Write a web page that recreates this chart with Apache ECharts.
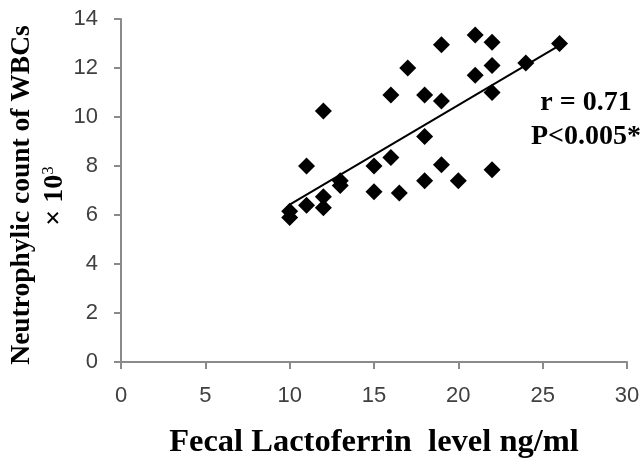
<!DOCTYPE html>
<html>
<head>
<meta charset="utf-8">
<script src="https://cdn.jsdelivr.net/npm/echarts@6/dist/echarts.min.js"></script>
<style>
html,body{margin:0;padding:0;background:#fff;}
#chart{width:643px;height:458px;}
</style>
</head>
<body>
<div id="chart"></div>
<script>
// Data
var lactoferrin = [10, 10, 11, 11, 12, 12, 12, 13, 13, 15, 15, 16, 16, 16.5, 17, 18, 18, 18, 19, 19, 19, 20, 21, 21, 22, 22, 22, 22, 24, 26];
var neutrophils = [5.9, 6.15, 6.4, 8.0, 6.3, 6.75, 10.25, 7.2, 7.4, 6.95, 8.0, 8.35, 10.9, 6.9, 12.0, 7.4, 9.2, 10.9, 8.05, 10.65, 12.95, 7.4, 11.7, 13.35, 7.85, 11.0, 12.1, 13.05, 12.2, 13.0];
var xTicks = [0, 5, 10, 15, 20, 25, 30];
var yTicks = [0, 2, 4, 6, 8, 10, 12, 14];
var statLines = ['r = 0.71', 'P<0.005*'];
var xTitle = 'Fecal Lactoferrin  level ng/ml';
var yTitle = 'Neutrophylic count of WBCs';
var yTitleUnit = '\u00d7 10';
var yTitleExp = '3';

// Build points and least-squares trend line from the data
var points = lactoferrin.map(function (x, i) { return [x, neutrophils[i]]; });
var n = points.length, sx = 0, sy = 0, sxx = 0, sxy = 0;
points.forEach(function (p) { sx += p[0]; sy += p[1]; sxx += p[0] * p[0]; sxy += p[0] * p[1]; });
var slope = (n * sxy - sx * sy) / (n * sxx - sx * sx);
var intercept = (sy - slope * sx) / n;
var xMin = Math.min.apply(null, lactoferrin), xMax = Math.max.apply(null, lactoferrin);
var trend = [[xMin, intercept + slope * xMin], [xMax, intercept + slope * xMax]];

var chart = echarts.init(document.getElementById('chart'), null, {renderer: 'canvas'});
var axisColor = '#8a8a8a';
var labelStyle = {color: '#404040', fontFamily: 'Liberation Sans', fontSize: 22};
var serif = 'Liberation Serif';
chart.setOption({
  animation: false,
  backgroundColor: '#ffffff',
  grid: {left: 121, right: 16, top: 19, bottom: 96, containLabel: false, outerBoundsMode: 'none'},
  xAxis: {
    type: 'value', min: xTicks[0], max: xTicks[xTicks.length - 1], interval: 5,
    splitLine: {show: false},
    axisLine: {show: true, onZero: false, lineStyle: {color: axisColor, width: 2}},
    axisTick: {show: true, length: 7, lineStyle: {color: axisColor, width: 2}},
    axisLabel: Object.assign({margin: 23, showMaxLabel: true, showMinLabel: true}, labelStyle),
    name: xTitle, nameLocation: 'middle', nameGap: 64,
    nameTextStyle: {fontFamily: serif, fontWeight: 'bold', fontSize: 32.5, color: '#000'}
  },
  yAxis: {
    type: 'value', min: yTicks[0], max: yTicks[yTicks.length - 1], interval: 2,
    splitLine: {show: false},
    axisLine: {show: true, onZero: false, lineStyle: {color: axisColor, width: 2}},
    axisTick: {show: true, length: 7, lineStyle: {color: axisColor, width: 2}},
    axisLabel: Object.assign({margin: 23}, labelStyle)
  },
  graphic: [
    {type: 'text', x: 22, y: 195, rotation: Math.PI / 2,
     style: {text: yTitle, fontFamily: serif, fontWeight: 'bold', fontSize: 27.5, fill: '#000', align: 'center', verticalAlign: 'middle'}},
    {type: 'text', x: 55, y: 196, rotation: Math.PI / 2,
     style: {text: '{b|' + yTitleUnit + '}{s|' + yTitleExp + '}', align: 'center', verticalAlign: 'middle',
       rich: {
         b: {fontFamily: serif, fontWeight: 'bold', fontSize: 28, fill: '#000', lineHeight: 30},
         s: {fontFamily: serif, fontWeight: 'normal', fontSize: 17, fill: '#000', verticalAlign: 'top', lineHeight: 30}
       }}},
    {type: 'text', x: 586, y: 103,
     style: {text: statLines[0], fontFamily: serif, fontWeight: 'bold', fontSize: 28, fill: '#000', align: 'center', verticalAlign: 'middle'}},
    {type: 'text', x: 586, y: 137,
     style: {text: statLines[1], fontFamily: serif, fontWeight: 'bold', fontSize: 28, fill: '#000', align: 'center', verticalAlign: 'middle'}}
  ],
  series: [
    {type: 'line', data: trend, showSymbol: false, symbol: 'none',
     lineStyle: {color: '#000', width: 2}, z: 2, silent: true},
    {type: 'scatter', data: points, symbol: 'diamond', symbolSize: 17,
     itemStyle: {color: '#000', opacity: 1}, z: 3}
  ]
});
</script>
</body>
</html>
